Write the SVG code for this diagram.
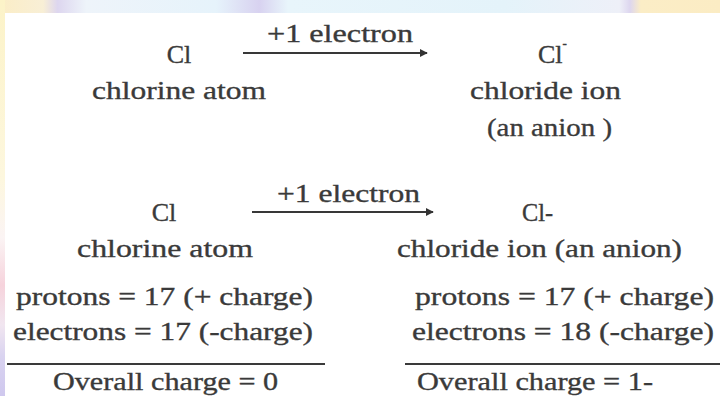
<svg xmlns="http://www.w3.org/2000/svg" width="720" height="396" viewBox="0 0 720 396">
  <defs>
    <linearGradient id="leftStrip" x1="0" y1="0" x2="0" y2="1">
      <stop offset="0" stop-color="#fcf3c8"/>
      <stop offset="0.45" stop-color="#fdf7de"/>
      <stop offset="0.6" stop-color="#fbf4f4"/>
      <stop offset="0.72" stop-color="#f6d3dc"/>
      <stop offset="0.82" stop-color="#f1e6f0"/>
      <stop offset="0.9" stop-color="#d9d3f0"/>
      <stop offset="1" stop-color="#cfc8ee"/>
    </linearGradient>
    <linearGradient id="topStrip" x1="0" y1="0" x2="1" y2="0">
      <stop offset="0" stop-color="#fbedc6"/>
      <stop offset="0.06" stop-color="#f8efd6"/>
      <stop offset="0.08" stop-color="#ddd6ef"/>
      <stop offset="0.12" stop-color="#eef4fa"/>
      <stop offset="0.3" stop-color="#e6f3fb"/>
      <stop offset="0.36" stop-color="#d8d2f0"/>
      <stop offset="0.4" stop-color="#e8f5fb"/>
      <stop offset="0.7" stop-color="#e4f3fa"/>
      <stop offset="0.86" stop-color="#eef0f8"/>
      <stop offset="0.875" stop-color="#ddd6ef"/>
      <stop offset="0.89" stop-color="#fbedc6"/>
      <stop offset="1" stop-color="#fbecc4"/>
    </linearGradient>
    <marker id="arrowHead" viewBox="0 0 10 10" refX="9" refY="5" markerWidth="4" markerHeight="4" orient="auto" markerUnits="strokeWidth">
      <path d="M0,0 L10,5 L0,10 z" fill="#333"/>
    </marker>
    <style>
      .t { font-family: "Liberation Serif", "Times New Roman", serif; font-size: 26px; fill: #3a3a3a; stroke: #3a3a3a; stroke-width: 0.35px; }
      .conn { stroke: #383838; stroke-width: 2; fill: none; }
      .rule { stroke: #3a3a3a; stroke-width: 2; }
    </style>
  </defs>

  <rect x="0" y="0" width="720" height="396" fill="#ffffff"/>
  <rect x="0" y="0" width="720" height="13" fill="url(#topStrip)"/>
  <rect x="0" y="0" width="5" height="396" fill="url(#leftStrip)"/>

  <g id="connectors">
    <line class="conn" x1="243" y1="53" x2="427" y2="53" marker-end="url(#arrowHead)"/>
    <line class="conn" x1="252" y1="212" x2="433" y2="212" marker-end="url(#arrowHead)"/>
    <text class="t" transform="translate(267,42) scale(1.15,1)" textLength="127" lengthAdjust="spacingAndGlyphs">+1 electron</text>
    <text class="t" transform="translate(277,202) scale(1.15,1)" textLength="124.3" lengthAdjust="spacingAndGlyphs">+1 electron</text>
  </g>

  <g id="chlorine-atom-top">
    <text class="t" x="179" y="63" text-anchor="middle">Cl</text>
    <text class="t" transform="translate(92,99) scale(1.15,1)" textLength="151.3" lengthAdjust="spacingAndGlyphs">chlorine atom</text>
  </g>

  <g id="chloride-ion-top">
    <text class="t" x="538" y="63">Cl<tspan font-size="13" dy="-15">-</tspan></text>
    <text class="t" transform="translate(470,99) scale(1.15,1)" textLength="131.3" lengthAdjust="spacingAndGlyphs">chloride ion</text>
    <text class="t" transform="translate(487,136) scale(1.15,1)" textLength="108.7" lengthAdjust="spacingAndGlyphs">(an anion )</text>
  </g>

  <g id="chlorine-atom-bottom">
    <text class="t" x="164" y="221" text-anchor="middle">Cl</text>
    <text class="t" transform="translate(77,257) scale(1.15,1)" textLength="153" lengthAdjust="spacingAndGlyphs">chlorine atom</text>
    <text class="t" transform="translate(16,305) scale(1.15,1)" textLength="258.3" lengthAdjust="spacingAndGlyphs">protons = 17 (+ charge)</text>
    <text class="t" transform="translate(13,340) scale(1.15,1)" textLength="260.9" lengthAdjust="spacingAndGlyphs">electrons = 17 (-charge)</text>
    <line class="rule" x1="7" y1="364" x2="325" y2="364"/>
    <text class="t" transform="translate(53,390) scale(1.15,1)" textLength="195.7" lengthAdjust="spacingAndGlyphs">Overall charge = 0</text>
  </g>

  <g id="chloride-ion-bottom">
    <text class="t" transform="translate(522,221) scale(1.15,1)" textLength="27" lengthAdjust="spacingAndGlyphs">Cl-</text>
    <text class="t" transform="translate(397,257) scale(1.15,1)" textLength="247.8" lengthAdjust="spacingAndGlyphs">chloride ion (an anion)</text>
    <text class="t" transform="translate(415,305) scale(1.15,1)" textLength="260" lengthAdjust="spacingAndGlyphs">protons = 17 (+ charge)</text>
    <text class="t" transform="translate(412,340) scale(1.15,1)" textLength="262.6" lengthAdjust="spacingAndGlyphs">electrons = 18 (-charge)</text>
    <line class="rule" x1="405" y1="364" x2="720" y2="364"/>
    <text class="t" transform="translate(417,390) scale(1.15,1)" textLength="205.2" lengthAdjust="spacingAndGlyphs">Overall charge = 1-</text>
  </g>
</svg>
